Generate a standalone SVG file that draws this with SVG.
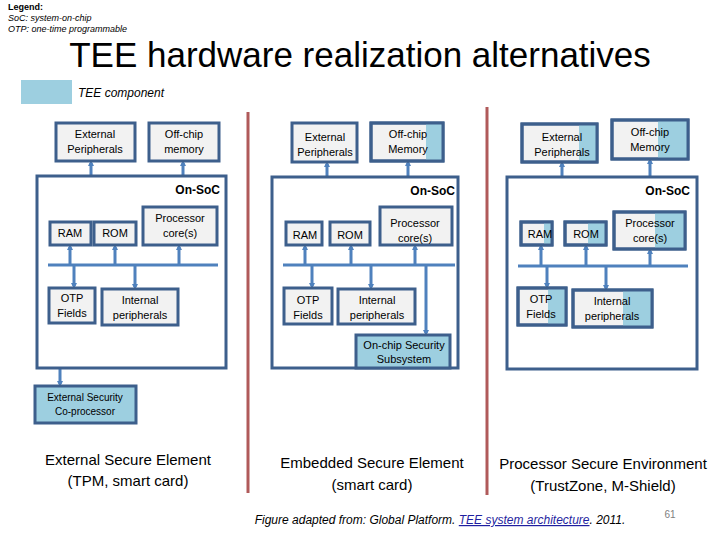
<svg xmlns="http://www.w3.org/2000/svg" width="720" height="540" viewBox="0 0 720 540">
<defs>
<marker id="ah" markerWidth="6" markerHeight="6" refX="3" refY="3" orient="auto" markerUnits="userSpaceOnUse"><path d="M0,0 L6,3 L0,6 z" fill="#4f81bd"/></marker>
<style>
.b{fill:#f2f2f2;stroke:#3d5f8c;stroke-width:3}
.s{fill:none;stroke:#3d5f8c;stroke-width:3}
.t{fill:#9dcfe0}
.c{stroke:#4f81bd;stroke-width:3;fill:none}
.a{stroke:#4f81bd;stroke-width:3;fill:none;marker-end:url(#ah)}
text{font-family:"Liberation Sans",Arial,sans-serif;font-size:11px;fill:#000;text-anchor:middle}
.big{font-size:15px}
.soc{font-weight:bold;font-size:12px;text-anchor:end}
.sep{stroke:#b05a5a;stroke-width:3}
</style>
</defs>
<text x="8" y="10" style="font-size:9px;text-anchor:start;font-weight:bold">Legend:</text>
<text x="8" y="21" style="font-size:9px;text-anchor:start;font-style:italic">SoC: system-on-chip</text>
<text x="8" y="32" style="font-size:9px;text-anchor:start;font-style:italic">OTP: one-time programmable</text>
<text x="360" y="67" style="font-size:35px">TEE hardware realization alternatives</text>
<rect x="21" y="80" width="51" height="24" class="t"/>
<text x="78" y="97" style="text-anchor:start;font-style:italic;font-size:12px">TEE component</text>
<line class="sep" x1="248" y1="112" x2="248" y2="493"/>
<line class="sep" x1="487" y1="107" x2="487" y2="495"/>

<g id="connectors">
<path class="c" d="M48,265 H218"/>
<path class="a" d="M91,176 V163"/>
<path class="a" d="M183,176 V163"/>
<path class="a" d="M70,265 V247"/>
<path class="a" d="M115,265 V247"/>
<path class="a" d="M179,265 V247"/>
<path class="a" d="M74,265 V286"/>
<path class="a" d="M135,265 V287"/>
<path class="a" d="M60,368 V384"/>
<path class="c" d="M283,265 H455"/>
<path class="a" d="M327,177 V164"/>
<path class="a" d="M408,177 V163"/>
<path class="a" d="M305,265 V247"/>
<path class="a" d="M351,265 V247"/>
<path class="a" d="M415,265 V247"/>
<path class="a" d="M312,265 V286"/>
<path class="a" d="M371,265 V287"/>
<path class="a" d="M426,265 V333"/>
<path class="c" d="M518,266 H688"/>
<path class="a" d="M562,177 V164"/>
<path class="a" d="M650,177 V161"/>
<path class="a" d="M541,266 V247"/>
<path class="a" d="M586,266 V247"/>
<path class="a" d="M650,266 V251"/>
<path class="a" d="M547,266 V286"/>
<path class="a" d="M606,266 V288"/>
</g>

<g id="panel1">
<rect class="s" x="37" y="176" width="189" height="192"/>
<text class="soc" x="220" y="194">On-SoC</text>
<g id="p1-ext"><rect class="b" x="56" y="123" width="79" height="38"/><text x="95" y="138">External</text><text x="95" y="153">Peripherals</text></g>
<g id="p1-mem"><rect class="b" x="149" y="123" width="70" height="38"/><text x="184" y="138">Off-chip</text><text x="184" y="153">memory</text></g>
<g id="p1-ram"><rect class="b" x="50" y="222" width="41" height="23"/><text x="70" y="237">RAM</text></g>
<g id="p1-rom"><rect class="b" x="94" y="222" width="42" height="23"/><text x="115" y="237">ROM</text></g>
<g id="p1-cpu"><rect class="b" x="143" y="207" width="74" height="38"/><text x="180" y="222">Processor</text><text x="180" y="237">core(s)</text></g>
<g id="p1-otp"><rect class="b" x="49" y="288" width="46" height="35"/><text x="72" y="302">OTP</text><text x="72" y="317">Fields</text></g>
<g id="p1-int"><rect class="b" x="102" y="289" width="76" height="36"/><text x="140" y="304">Internal</text><text x="140" y="319">peripherals</text></g>
<g id="p1-cop"><rect class="b" x="35" y="386" width="101" height="37" style="fill:#9dcfe0"/><text x="85" y="401" style="font-size:10px">External Security</text><text x="85" y="415" style="font-size:10px">Co-processor</text></g>
<text class="big" x="128" y="465">External Secure Element</text>
<text class="big" x="128" y="486">(TPM, smart card)</text>
</g>

<g id="panel2">
<rect class="s" x="272" y="177" width="186" height="191"/>
<text class="soc" x="455" y="195">On-SoC</text>
<g id="p2-ext"><rect class="b" x="292" y="123" width="65" height="39"/><text x="325" y="141">External</text><text x="325" y="156">Peripherals</text></g>
<g id="p2-mem"><rect class="b" x="371" y="123" width="72" height="38"/><rect class="t" x="426" y="124" width="16" height="36"/><rect class="s" x="371" y="123" width="72" height="38"/><text x="408" y="138">Off-chip</text><text x="408" y="153">Memory</text></g>
<g id="p2-ram"><rect class="b" x="286" y="222" width="36" height="23"/><text x="305" y="239">RAM</text></g>
<g id="p2-rom"><rect class="b" x="330" y="222" width="40" height="23"/><text x="350" y="239">ROM</text></g>
<g id="p2-cpu"><rect class="b" x="380" y="207" width="72" height="38"/><text x="415" y="227">Processor</text><text x="415" y="242">core(s)</text></g>
<g id="p2-otp"><rect class="b" x="284" y="288" width="48" height="36"/><text x="308" y="304">OTP</text><text x="308" y="319">Fields</text></g>
<g id="p2-int"><rect class="b" x="338" y="289" width="77" height="35"/><text x="377" y="304">Internal</text><text x="377" y="319">peripherals</text></g>
<g id="p2-sec"><rect class="b" x="356" y="335" width="94" height="33" style="fill:#9dcfe0"/><text x="404" y="349">On-chip Security</text><text x="404" y="363">Subsystem</text></g>
<text class="big" x="372" y="468">Embedded Secure Element</text>
<text class="big" x="372" y="490">(smart card)</text>
</g>

<g id="panel3">
<rect class="s" x="507" y="177" width="190" height="192"/>
<text class="soc" x="690" y="195">On-SoC</text>
<g id="p3-ext"><rect class="b" x="522" y="124" width="75" height="38"/><rect class="t" x="579" y="125" width="17" height="36"/><rect class="s" x="522" y="124" width="75" height="38"/><text x="562" y="141">External</text><text x="562" y="156">Peripherals</text></g>
<g id="p3-mem"><rect class="b" x="612" y="120" width="76" height="39"/><rect class="t" x="658" y="121" width="29" height="37"/><rect class="s" x="612" y="120" width="76" height="39"/><text x="650" y="136">Off-chip</text><text x="650" y="151">Memory</text></g>
<g id="p3-ram"><rect class="b" x="521" y="222" width="31" height="23"/><rect class="t" x="544" y="223" width="7" height="21"/><rect class="s" x="521" y="222" width="31" height="23"/><text x="540" y="238">RAM</text></g>
<g id="p3-rom"><rect class="b" x="565" y="222" width="41" height="23"/><rect class="t" x="588" y="223" width="17" height="21"/><rect class="s" x="565" y="222" width="41" height="23"/><text x="586" y="238">ROM</text></g>
<g id="p3-cpu"><rect class="b" x="614" y="212" width="71" height="37"/><rect class="t" x="655" y="213" width="29" height="35"/><rect class="s" x="614" y="212" width="71" height="37"/><text x="650" y="227">Processor</text><text x="650" y="242">core(s)</text></g>
<g id="p3-otp"><rect class="b" x="518" y="288" width="48" height="37"/><rect class="t" x="548" y="289" width="17" height="35"/><rect class="s" x="518" y="288" width="48" height="37"/><text x="541" y="303">OTP</text><text x="541" y="318">Fields</text></g>
<g id="p3-int"><rect class="b" x="573" y="290" width="79" height="37"/><rect class="t" x="623" y="291" width="28" height="35"/><rect class="s" x="573" y="290" width="79" height="37"/><text x="612" y="305">Internal</text><text x="612" y="320">peripherals</text></g>
<text class="big" x="603" y="469">Processor Secure Environment</text>
<text class="big" x="603" y="491">(TrustZone, M-Shield)</text>
</g>
<text x="440" y="524" style="font-size:12px;font-style:italic">Figure adapted from: Global Platform. <tspan style="fill:#1f1fa0;text-decoration:underline">TEE system architecture</tspan>. 2011.</text>
<text x="670" y="518" style="font-size:10px;fill:#808080">61</text>
</svg>
